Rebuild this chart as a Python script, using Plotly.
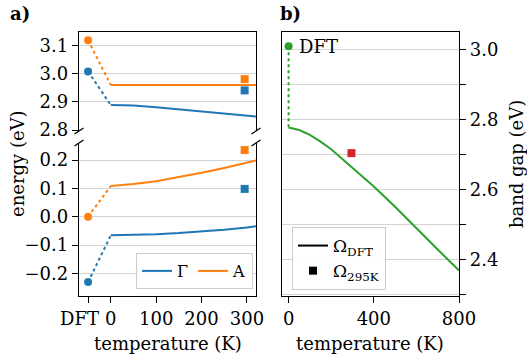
import plotly.graph_objects as go

W, H = 527, 356

# ---------------- data ----------------
# panel a: temperatures (K) and band-edge energies (eV)
temps_a = [0, 50, 100, 150, 200, 250, 300, 320]
gamma_cb = [2.889, 2.887, 2.881, 2.874, 2.867, 2.859, 2.851, 2.848]
a_cb = [2.960, 2.960, 2.960, 2.960, 2.960, 2.960, 2.960, 2.960]
gamma_vb = [-0.066, -0.065, -0.062, -0.058, -0.053, -0.046, -0.038, -0.034]
a_vb = [0.108, 0.115, 0.125, 0.139, 0.155, 0.172, 0.190, 0.198]

dft_pos = -50  # position of the "DFT" column on the temperature axis
gamma_cb_dft = 3.008
a_cb_dft = 3.119
gamma_vb_dft = -0.231
a_vb_dft = 0.0

t_295 = 295
gamma_cb_295 = 2.941
a_cb_295 = 2.981
gamma_vb_295 = 0.098
a_vb_295 = 0.235

# panel b: band gap
temps_b = [0, 50, 100, 150, 200, 300, 400, 500, 600, 700, 800]
gap = [2.778, 2.771, 2.757, 2.738, 2.716, 2.664, 2.610, 2.552, 2.490, 2.430, 2.370]
gap_dft = 3.010
gap_295 = 2.705

xticks_a = [-50, 0, 100, 200, 300]
xticklabels_a = ["", "0", "100", "200", "300"]
dft_label = "DFT"
yticks_bot = [-0.2, -0.1, 0.0, 0.1, 0.2]
yticks_top = [2.8, 2.9, 3.0, 3.1]
xticks_b = [0, 400, 800]
yticks_b = [2.3, 2.4, 2.5, 2.6, 2.7, 2.8, 2.9, 3.0]
yticklabels_b = ["", "2.4", "", "2.6", "", "2.8", "", "3.0"]

BLUE, ORANGE, GREEN, RED = "#1f77b4", "#ff7f0e", "#2ca02c", "#d62728"
FONT = "DejaVu Serif"
FS = 18
LFS = 16
GRID = "#d4d4d4"


def px(x):
    return x / W


def py(y):
    return 1 - y / H


fig = go.Figure()

# ---- panel a, lower ----
for dftv, vals, sq, col, name in [
    (gamma_vb_dft, gamma_vb, gamma_vb_295, BLUE, "Γ"),
    (a_vb_dft, a_vb, a_vb_295, ORANGE, "A"),
]:
    fig.add_trace(go.Scatter(x=[dft_pos, temps_a[0]], y=[dftv, vals[0]], mode="lines",
                             line=dict(color=col, width=2, dash="dot"), xaxis="x", yaxis="y",
                             showlegend=False))
    fig.add_trace(go.Scatter(x=temps_a, y=vals, mode="lines", line=dict(color=col, width=2),
                             xaxis="x", yaxis="y", name=name, legend="legend", showlegend=True))
    fig.add_trace(go.Scatter(x=[dft_pos], y=[dftv], mode="markers",
                             marker=dict(color=col, size=8, symbol="circle"),
                             xaxis="x", yaxis="y", showlegend=False))
    fig.add_trace(go.Scatter(x=[t_295], y=[sq], mode="markers",
                             marker=dict(color=col, size=8, symbol="square"),
                             xaxis="x", yaxis="y", showlegend=False))

# ---- panel a, upper ----
for dftv, vals, sq, col in [
    (gamma_cb_dft, gamma_cb, gamma_cb_295, BLUE),
    (a_cb_dft, a_cb, a_cb_295, ORANGE),
]:
    fig.add_trace(go.Scatter(x=[dft_pos, temps_a[0]], y=[dftv, vals[0]], mode="lines",
                             line=dict(color=col, width=2, dash="dot"), xaxis="x2", yaxis="y2",
                             showlegend=False))
    fig.add_trace(go.Scatter(x=temps_a, y=vals, mode="lines", line=dict(color=col, width=2),
                             xaxis="x2", yaxis="y2", showlegend=False))
    fig.add_trace(go.Scatter(x=[dft_pos], y=[dftv], mode="markers",
                             marker=dict(color=col, size=8, symbol="circle"),
                             xaxis="x2", yaxis="y2", showlegend=False))
    fig.add_trace(go.Scatter(x=[t_295], y=[sq], mode="markers",
                             marker=dict(color=col, size=8, symbol="square"),
                             xaxis="x2", yaxis="y2", showlegend=False))

# ---- panel b ----
fig.add_trace(go.Scatter(x=[temps_b[0], temps_b[0]], y=[gap_dft, gap[0]], mode="lines",
                         line=dict(color=GREEN, width=2, dash="dot"), xaxis="x3", yaxis="y3",
                         showlegend=False))
fig.add_trace(go.Scatter(x=temps_b, y=gap, mode="lines", line=dict(color=GREEN, width=2),
                         xaxis="x3", yaxis="y3", showlegend=False))
fig.add_trace(go.Scatter(x=[temps_b[0]], y=[gap_dft], mode="markers",
                         marker=dict(color=GREEN, size=8), xaxis="x3", yaxis="y3",
                         showlegend=False))
fig.add_trace(go.Scatter(x=[t_295], y=[gap_295], mode="markers",
                         marker=dict(color=RED, size=8, symbol="square"), xaxis="x3", yaxis="y3",
                         showlegend=False))
# legend-only entries
fig.add_trace(go.Scatter(x=[None], y=[None], mode="lines", line=dict(color="black", width=2),
                         name="Ω<sub>DFT</sub>", xaxis="x3", yaxis="y3", legend="legend2"))
fig.add_trace(go.Scatter(x=[None], y=[None], mode="markers",
                         marker=dict(color="black", size=8, symbol="square"),
                         name="Ω<sub>295K</sub>", xaxis="x3", yaxis="y3", legend="legend2"))

axis_common = dict(showline=True, linecolor="black", linewidth=1.3, zeroline=False,
                   tickfont=dict(family=FONT, size=FS, color="black"),
                   ticks="outside", ticklen=6, tickwidth=1.2, tickcolor="black",
                   tickangle=0, automargin=False)

dom_a = [px(79), px(256)]
dom_b = [px(282), px(459)]

fig.update_layout(
    width=W, height=H, margin=dict(l=0, r=0, t=0, b=0, autoexpand=False),
    paper_bgcolor="white", plot_bgcolor="white",
    font=dict(family=FONT, size=FS, color="black"),
    xaxis=dict(domain=dom_a, range=[-70, 320], anchor="y", tickvals=xticks_a,
               ticktext=xticklabels_a, showgrid=False, **axis_common),
    xaxis2=dict(domain=dom_a, range=[-70, 320], anchor="y2", side="top", showline=True,
                linecolor="black", linewidth=1.3, showticklabels=False, ticks="",
                showgrid=False, zeroline=False, automargin=False),
    yaxis=dict(domain=[py(296), py(143)], range=[-0.28, 0.26], anchor="x",
               tickvals=yticks_bot, tickformat=".1f", mirror=True, showgrid=True,
               gridcolor=GRID, gridwidth=1, **axis_common),
    yaxis2=dict(domain=[py(131), py(32)], range=[2.797, 3.148], anchor="x2",
                tickvals=yticks_top, tickformat=".1f", mirror=True, showgrid=True,
                gridcolor=GRID, gridwidth=1, **axis_common),
    xaxis3=dict(domain=dom_b, range=[-31, 800], anchor="y3", tickvals=xticks_b,
                mirror=True, showgrid=False, **axis_common),
    yaxis3=dict(domain=[py(296), py(32)], range=[2.297, 3.051], anchor="x3", side="right",
                tickvals=yticks_b, ticktext=yticklabels_b, mirror=True, showgrid=True,
                gridcolor=GRID, gridwidth=1, **axis_common),
    legend=dict(orientation="h", x=px(136), y=py(253), xanchor="left", yanchor="top",
                bordercolor="#cccccc", borderwidth=1, bgcolor="rgba(255,255,255,0.85)",
                font=dict(family=FONT, size=LFS), itemwidth=30, tracegroupgap=0),
    legend2=dict(orientation="v", x=px(292), y=py(227), xanchor="left", yanchor="top",
                 bordercolor="#cccccc", borderwidth=1, bgcolor="rgba(255,255,255,0.85)",
                 font=dict(family=FONT, size=17), itemwidth=30, tracegroupgap=0),
)

annos = [
    dict(text="<b>a)</b>", x=px(8), y=py(14), xanchor="left", yanchor="middle"),
    dict(text="<b>b)</b>", x=px(278), y=py(14), xanchor="left", yanchor="middle"),
    dict(text="energy (eV)", x=px(17), y=py(164), textangle=-90, xanchor="center",
         yanchor="middle"),
    dict(text="band gap (eV)", x=px(516), y=py(164), textangle=-90, xanchor="center",
         yanchor="middle"),
    dict(text="temperature (K)", x=px(167.5), y=py(343), xanchor="center", yanchor="middle"),
    dict(text="temperature (K)", x=px(370), y=py(343), xanchor="center", yanchor="middle"),
]
for a in annos:
    fig.add_annotation(xref="paper", yref="paper", showarrow=False,
                       font=dict(family=FONT, size=FS, color="black"), **a)
fig.add_annotation(xref="x3", yref="y3", x=temps_b[0], y=gap_dft, text="DFT",
                   showarrow=False, xanchor="left", yanchor="middle", xshift=8,
                   font=dict(family=FONT, size=FS, color="black"))
# "DFT" tick label of panel a (set slightly left of its tick, as in the original)
fig.add_annotation(xref="x", yref="paper", x=dft_pos, y=py(318), text=dft_label,
                   showarrow=False, xanchor="center", yanchor="middle", xshift=-9,
                   font=dict(family=FONT, size=FS, color="black"))

# axis-break marks
for xb in (79, 256):
    for yb in (131, 143):
        fig.add_shape(type="line", xref="paper", yref="paper",
                      x0=px(xb - 4.5), y0=py(yb + 3), x1=px(xb + 4.5), y1=py(yb - 3),
                      line=dict(color="black", width=1.3))

fig.write_html("out.html")
